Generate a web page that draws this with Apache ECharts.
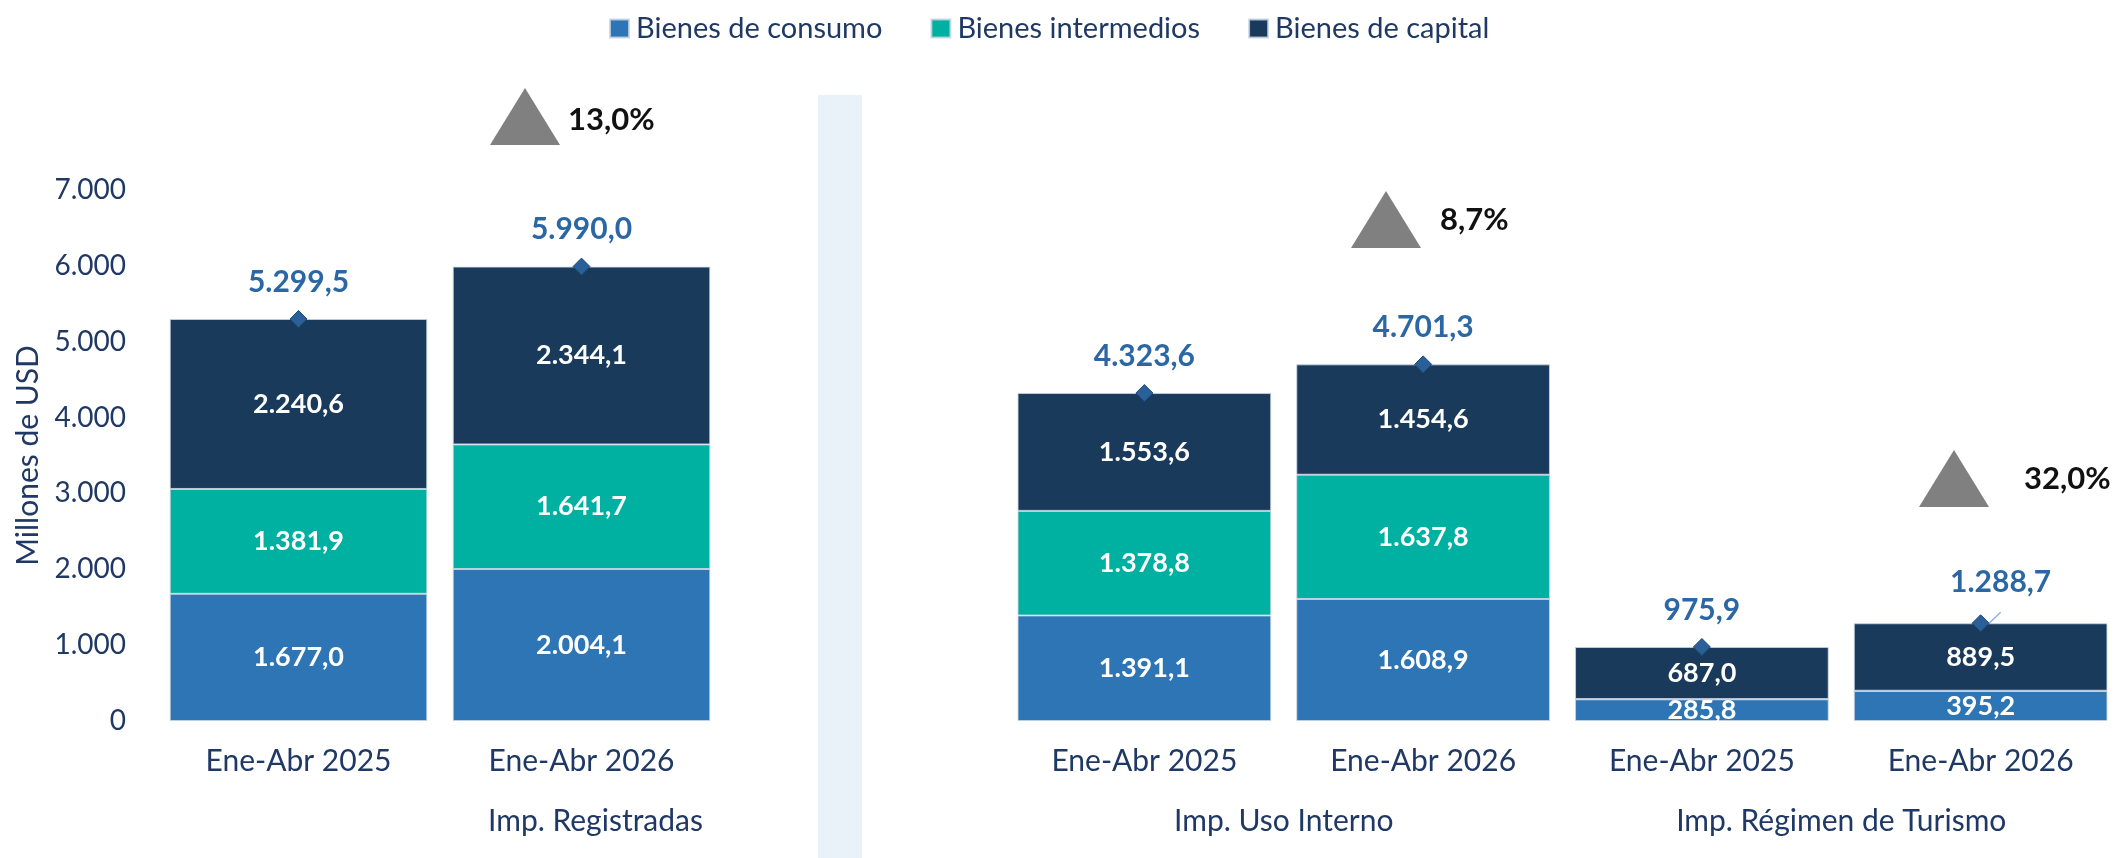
<!DOCTYPE html>
<html>
<head>
<meta charset="utf-8">
<script src="https://cdn.jsdelivr.net/npm/echarts@6/dist/echarts.min.js"></script>
<style>
  html, body { margin: 0; padding: 0; background: #fff; }
  #chart { width: 2120px; height: 858px; }
</style>
</head>
<body>
<div id="chart"></div>
<script>
// Datos (millones de USD)
const categoriasReg = ['Ene-Abr 2025', 'Ene-Abr 2026'];
const categoriasDer = ['Ene-Abr 2025', 'Ene-Abr 2026', 'Ene-Abr 2025', 'Ene-Abr 2026'];
const gruposDer = ['Imp. Uso Interno', 'Imp. Régimen de Turismo'];
const grupoReg = 'Imp. Registradas';

const consumoReg = [1677.0, 2004.1];
const intermediosReg = [1381.9, 1641.7];
const capitalReg = [2240.6, 2344.1];
const totalReg = [5299.5, 5990.0];

const consumoDer = [1391.1, 1608.9, 285.8, 395.2];
const intermediosDer = [1378.8, 1637.8, 3.1, 3.9];
const capitalDer = [1553.6, 1454.6, 687.0, 889.5];
const totalDer = [4323.6, 4701.3, 975.9, 1288.7];

const variaciones = ['13,0%', '8,7%', '32,0%'];
const yMin = 0, yMax = 7000, yStep = 1000;

const FONT = 'Lato';
const NAVY_TXT = '#1f3864';
const C_CONSUMO = '#2e75b6';
const C_INTER = '#00b0a0';
const C_CAPITAL = '#1a3a5c';
const C_TOTAL = '#2b67a4';

// formato es: 1.234,5
function fmt(v) {
  const parts = v.toFixed(1).split('.');
  return parts[0].replace(/\B(?=(\d{3})+(?!\d))/g, '.') + ',' + parts[1];
}
function fmtInt(v) {
  return String(v).replace(/\B(?=(\d{3})+(?!\d))/g, '.');
}

const chart = echarts.init(document.getElementById('chart'));

function segLabel() {
  return {
    show: true,
    position: 'inside',
    color: '#fff',
    fontFamily: FONT,
    fontWeight: 'bold',
    fontSize: 27,
    formatter: p => (p.value < 50 ? '' : fmt(p.value))
  };
}
const barBorder = { borderColor: 'rgba(200,212,226,0.8)', borderWidth: 1 };

function stack(name, data, color, xi, yi, stk) {
  return {
    name: name,
    type: 'bar',
    stack: stk,
    xAxisIndex: xi,
    yAxisIndex: yi,
    barCategoryGap: '9%',
    data: data,
    itemStyle: Object.assign({ color: color }, barBorder),
    label: segLabel()
  };
}

function totalSeries(data, xi, yi) {
  return {
    name: 'Total',
    type: 'line',
    xAxisIndex: xi,
    yAxisIndex: yi,
    data: data,
    symbol: 'diamond',
    symbolSize: 17,
    lineStyle: { width: 0, opacity: 0 },
    itemStyle: { color: '#2a5f98', borderColor: '#1d4c7c', borderWidth: 1 },
    label: {
      show: true,
      position: 'top',
      distance: 13,
      color: C_TOTAL,
      fontFamily: FONT,
      fontWeight: 'bold',
      fontSize: 30,
      formatter: p => fmt(p.value)
    },
    z: 5
  };
}

// punto de turismo 2026 con etiqueta desplazada y línea guía
const totalDerData = totalDer.map((v, i) => i === 3 ? {
  value: v,
  label: { offset: [20, -4] },
  labelLine: { show: true, lineStyle: { color: '#8fb0e0', width: 1.5 } }
} : v);

function tri(cx, top, w, h) {
  return {
    type: 'polygon',
    shape: { points: [[cx, top], [cx + w / 2, top + h], [cx - w / 2, top + h]] },
    style: { fill: '#808080' }
  };
}
function pct(x, y, text) {
  return {
    type: 'text',
    x: x, y: y,
    style: { text: text, fontFamily: FONT, fontWeight: 'bold', fontSize: 31, fill: '#111', textVerticalAlign: 'middle' }
  };
}

const catAxis = (grid, data) => ({
  type: 'category',
  gridIndex: grid,
  data: data,
  position: 'bottom',
  axisLine: { show: false },
  axisTick: { show: false },
  axisLabel: { color: NAVY_TXT, fontFamily: FONT, fontSize: 30, margin: 25, interval: 0 }
});
const groupAxis = (grid, data, pad) => ({
  type: 'category',
  gridIndex: grid,
  data: data,
  position: 'bottom',
  axisLine: { show: false },
  axisTick: { show: false },
  axisPointer: { show: false },
  axisLabel: { color: NAVY_TXT, fontFamily: FONT, fontSize: 30, margin: 85, interval: 0, padding: pad }
});

const option = {
  animation: false,
  backgroundColor: '#fff',
  legend: {
    data: ['Bienes de consumo', 'Bienes intermedios', 'Bienes de capital'],
    left: 604,
    top: 9,
    itemWidth: 19,
    itemHeight: 18,
    itemGap: 48,
    icon: 'rect',
    textStyle: { color: NAVY_TXT, fontFamily: FONT, fontSize: 29, padding: [0, 0, 0, 2] }
  },
  grid: [
    { left: 157, top: 190, width: 566, bottom: 137 },
    { left: 1005, top: 190, width: 1132, bottom: 137 }
  ],
  xAxis: [
    catAxis(0, categoriasReg),
    catAxis(1, categoriasDer),
    groupAxis(0, ['', grupoReg], [0, 0, 0, 28]),
    groupAxis(1, gruposDer, 0)
  ],
  yAxis: [
    {
      type: 'value', gridIndex: 0, min: yMin, max: yMax, interval: yStep,
      name: 'Millones de USD',
      nameLocation: 'middle',
      nameGap: 114,
      nameTextStyle: { color: NAVY_TXT, fontFamily: FONT, fontSize: 30 },
      axisLine: { show: false },
      axisTick: { show: false },
      splitLine: { show: false },
      axisLabel: { color: NAVY_TXT, fontFamily: FONT, fontSize: 28, margin: 31, formatter: v => fmtInt(v) }
    },
    {
      type: 'value', gridIndex: 1, min: yMin, max: yMax, interval: yStep,
      show: false,
      splitLine: { show: false }
    }
  ],
  graphic: [
    { type: 'rect', shape: { x: 818, y: 95, width: 44, height: 763 }, style: { fill: '#e9f1f9' }, z: -10 },
    tri(525, 88, 70, 57),
    pct(568, 120, variaciones[0]),
    tri(1386, 191, 70, 57),
    pct(1440, 220, variaciones[1]),
    tri(1954, 450, 70, 57),
    pct(2024, 479, variaciones[2])
  ],
  series: [
    stack('Bienes de consumo', consumoReg, C_CONSUMO, 0, 0, 'reg'),
    stack('Bienes intermedios', intermediosReg, C_INTER, 0, 0, 'reg'),
    stack('Bienes de capital', capitalReg, C_CAPITAL, 0, 0, 'reg'),
    totalSeries(totalReg, 0, 0),
    stack('Bienes de consumo', consumoDer, C_CONSUMO, 1, 1, 'der'),
    stack('Bienes intermedios', intermediosDer, C_INTER, 1, 1, 'der'),
    stack('Bienes de capital', capitalDer, C_CAPITAL, 1, 1, 'der'),
    totalSeries(totalDerData, 1, 1)
  ]
};

chart.setOption(option);
</script>
</body>
</html>
